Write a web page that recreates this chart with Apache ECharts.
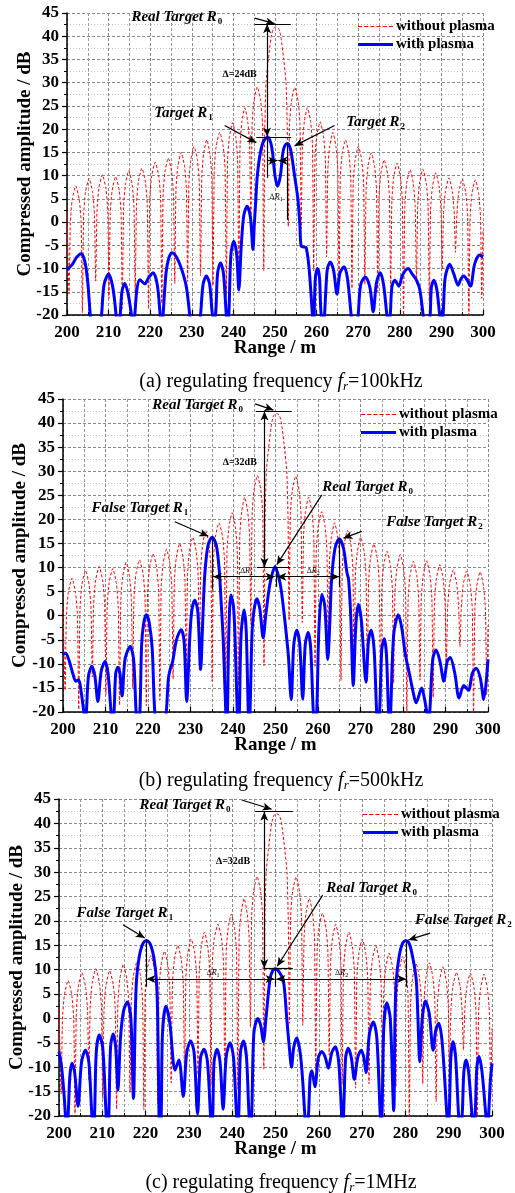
<!DOCTYPE html>
<html><head><meta charset="utf-8">
<script src="https://cdn.jsdelivr.net/npm/echarts@6/dist/echarts.min.js"></script>
<style>html,body{margin:0;padding:0;background:#fff}#c{width:515px;height:1193px}</style>
</head><body><div id="c"></div>
<script>
// ---------- data (range in m, amplitude in dB) ----------
const redCurve = [
[200,2],[200.5,-15.5],
[200.8,-0.2],[201.25,4.8],[202.1,7.8],[202.95,4.8],[203.4,-0.2],[203.7,-19.5],
[204.0,1.4],[204.45,6.4],[205.3,9.4],[206.15,6.4],[206.6,1.4],[206.9,-12.7],
[207.2,2.2],[207.65,7.2],[208.5,10.2],[209.35,7.2],[209.8,2.2],[210.1,-16.4],
[210.4,1.8],[210.85,6.8],[211.7,9.8],[212.55,6.8],[213.0,1.8],[213.3,-18.6],
[213.6,3.1],[214.05,8.1],[214.85,11.1],[215.65,8.1],[216.1,3.1],[216.4,-15.2],
[216.7,3.6],[217.15,8.6],[218.0,11.6],[218.85,8.6],[219.3,3.6],[219.6,-18.7],
[219.9,4.9],[220.35,9.9],[221.2,12.9],[222.05,9.9],[222.5,4.9],[222.8,-17.5],
[223.1,5.8],[223.55,10.8],[224.35,13.8],[225.15,10.8],[225.6,5.8],[225.9,-13.2],
[226.2,7.0],[226.65,12.0],[227.45,15.0],[228.25,12.0],[228.7,7.0],[229.0,-12.8],
[229.3,8.3],[229.75,13.3],[230.55,16.3],[231.35,13.3],[231.8,8.3],[232.1,-11.5],
[232.4,9.7],[232.85,14.7],[233.6,17.7],[234.35,14.7],[234.8,9.7],[235.1,-13.6],
[235.4,11.3],[235.85,16.3],[236.7,19.3],[237.55,16.3],[238.0,11.3],[238.3,-16.0],
[238.6,13.4],[239.05,18.4],[239.8,21.4],[240.55,18.4],[241.0,13.4],[241.3,-14.5],
[241.6,16.6],[242.05,21.6],[242.75,24.6],[243.45,21.6],[243.9,16.6],[244.2,-1.8],
[244.5,21.1],[244.95,26.1],[245.75,29.1],[246.55,26.1],[247.0,21.1],[247.3,-10.4],
[247.55,20],[247.85,30],[248.4,35],[249.1,40],[249.6,41.6],[250.25,42],[250.9,41.6],[251.4,40],[252.1,35],[252.65,30],[252.95,20],[253.2,-1.0],
[253.5,21],[253.95,26],[254.75,29],[255.55,26],[256.0,21],[256.3,-1.4],
[256.6,16.6],[257.05,21.6],[257.8,24.6],[258.55,21.6],[259.0,16.6],[259.3,-10.5],
[259.6,13.6],[260.05,18.6],[260.85,21.6],[261.65,18.6],[262.1,13.6],[262.4,-7.5],
[262.7,11.3],[263.15,16.3],[263.9,19.3],[264.65,16.3],[265.1,11.3],[265.4,-13.5],
[265.7,9.7],[266.15,14.7],[266.95,17.7],[267.75,14.7],[268.2,9.7],[268.5,-14.3],
[268.8,8.3],[269.25,13.3],[270.05,16.3],[270.85,13.3],[271.3,8.3],[271.6,-13.4],
[271.9,6.9],[272.35,11.9],[273.15,14.9],[273.95,11.9],[274.4,6.9],[274.7,-15.0],
[275.0,5.4],[275.45,10.4],[276.25,13.4],[277.05,10.4],[277.5,5.4],[277.8,-14.0],
[278.1,4.7],[278.55,9.7],[279.35,12.7],[280.15,9.7],[280.6,4.7],[280.9,-20.5],
[281.2,3.3],[281.65,8.3],[282.45,11.3],[283.25,8.3],[283.7,3.3],[284.0,-13.4],
[284.3,3.4],[284.75,8.4],[285.55,11.4],[286.35,8.4],[286.8,3.4],[287.1,-17.0],
[287.4,2.6],[287.85,7.6],[288.65,10.6],[289.45,7.6],[289.9,2.6],[290.2,-10.2],
[290.5,1.5],[290.95,6.5],[291.8,9.5],[292.65,6.5],[293.1,1.5],[293.4,-6.5],
[293.7,1.3],[294.15,6.3],[295.0,9.3],[295.85,6.3],[296.3,1.3],[296.6,-20.5],
[296.9,1.1],[297.35,6.1],[298.15,9.1],[298.95,6.1],[299.4,1.1],[299.7,-16.4],
[300,-2]
];

const blueA = [
[200,-10.2],[201.2,-9.2],[202.3,-7.6],[203.4,-6.8],[204.3,-8.5],[205.0,-13],[205.6,-20],[206.9,-30],[208.3,-20],[208.9,-13.5],[210.0,-11.2],[211.0,-14],[211.8,-20],[212.3,-26],[212.8,-20],[213.2,-15],[213.9,-13.2],[214.7,-15.5],[215.5,-20],[215.9,-23],[216.3,-20],[216.8,-14.5],[217.5,-12.4],[218.7,-13.3],[219.6,-12],[220.7,-10.9],[221.7,-13.5],[222.4,-20],[222.8,-24],[223.1,-20],[223.8,-11],[224.4,-8],[225.2,-6.6],[226.3,-7.5],[227.5,-10],[228.7,-14],[229.5,-20],[230.8,-30],[232.1,-20],[232.7,-13.5],[233.5,-11.6],[234.3,-13.5],[234.9,-19.5],[235.2,-20.5],[235.7,-20],[236.2,-11],[236.9,-8.8],[237.6,-11],[238.3,-20],[238.6,-22],[238.9,-20],[239.4,-7],[240.1,-4.1],[240.8,-7],[241.3,-14.6],[241.9,-5],[242.5,1.5],[243.3,3.4],[244.1,1],[244.7,-5.9],[245.0,-1],[245.4,5],[245.75,10],[246.5,15],[247.3,17.5],[248.3,18.3],[249.0,17],[249.4,15],[250.0,10],[250.6,7.7],[251.3,10],[251.9,15],[252.4,16.5],[253.0,16.9],[253.5,16.3],[253.9,15],[254.7,10],[255.5,5],[256.0,-1],[256.3,-5.2],[257.1,-5.4],[257.5,-5.5],[258.2,-10],[259.0,-20],[259.2,-22],[259.4,-20],[259.7,-12],[260.2,-10],[260.7,-12],[261.1,-20],[261.7,-21],[262.2,-15],[262.6,-10],[263.3,-8.6],[264.1,-10.5],[264.9,-15.5],[265.6,-11],[266.6,-9.6],[267.4,-12],[268.3,-20],[269.2,-28],[270.0,-20],[270.6,-13.5],[271.7,-11.8],[272.8,-14],[273.6,-19.3],[274.4,-13],[275.3,-10.9],[276.1,-13.5],[276.9,-20],[277.3,-22],[277.7,-20],[278.1,-14],[278.8,-12.5],[279.8,-13.8],[280.6,-11.5],[282.0,-10],[283.0,-11.2],[284.0,-12.5],[284.8,-14.5],[285.6,-20],[286.5,-28],[287.3,-20],[287.6,-14],[288.2,-12.5],[288.9,-14.5],[289.6,-20],[290.0,-22],[290.4,-20],[290.9,-12],[292.0,-9.1],[293.0,-11.2],[294.0,-13.6],[294.7,-12.2],[295.4,-11.6],[296.2,-12.5],[297.0,-13.8],[298.0,-9],[299.2,-7.1],[300,-7.5]
];

const blueB = [
[200,-8.1],[200.6,-7.8],[201.5,-9.5],[202.3,-12],[203.0,-13.6],[203.7,-13.3],[204.3,-16],[204.9,-20],[205.2,-22],[205.5,-20],[206.0,-12.5],[206.8,-10.5],[207.5,-12.5],[208.2,-17.8],[209.0,-11.5],[209.9,-9.5],[210.6,-12],[211.3,-20],[211.6,-22],[212.0,-20],[212.4,-12],[212.9,-10.7],[213.4,-12],[213.9,-16.7],[214.6,-9],[215.8,-6.4],[216.6,-9],[217.2,-20],[217.6,-24],[218.1,-20],[218.5,-6],[219.0,-1.5],[219.6,0.2],[220.3,-1.5],[221.0,-7],[221.6,-20],[223.0,-30],[224.3,-20],[224.8,-13],[225.2,-11.2],[225.8,-9.5],[226.7,-5],[227.8,-2.9],[228.5,-5.5],[229.1,-17.8],[229.8,-5],[230.3,1],[231.0,3.2],[231.7,1],[232.4,-11.2],[232.8,-3],[233.1,4],[233.4,9],[234.1,14.5],[235.1,16.3],[236.1,14.5],[236.8,9],[237.2,3],[237.7,-5],[238.3,-20],[238.5,-22],[238.7,-20],[239.0,-4],[239.5,4.3],[240.1,2],[240.5,-5],[241.0,-20],[241.25,-23],[241.5,-20],[241.9,-4],[242.6,1.2],[243.1,-3],[243.6,-20],[243.8,-21],[244.0,-20],[244.5,-3],[245.0,1.5],[245.6,3.5],[246.3,1.5],[247.1,-4.6],[247.7,0],[248.4,5],[248.9,7.5],[249.9,10.2],[250.9,7.5],[251.4,5],[252.2,-1],[253.0,-8],[253.7,-17.4],[254.3,-6],[255.0,-3],[255.7,-6],[256.4,-17.3],[257.0,-6],[257.7,-3.5],[258.3,-7],[258.9,-20],[259.3,-22],[259.7,-20],[260.2,-3],[260.9,4.4],[261.6,2],[262.3,-9.1],[262.8,-1],[263.2,7.5],[264.0,14],[265.0,16.0],[266.0,14],[266.8,9],[267.2,7.5],[267.7,0],[268.3,-14.5],[268.9,-2],[269.5,2.3],[270.2,-1],[271.3,-13.8],[271.9,-5],[272.5,-3],[273.2,-7],[273.8,-20],[274.1,-22],[274.5,-20],[275.0,-7],[275.6,-4.8],[276.1,-8],[276.6,-20],[276.9,-22],[277.1,-20],[277.8,-4],[278.9,0.2],[279.7,-2.5],[280.5,-7.8],[281.5,-12],[282.3,-15.5],[283.1,-18.1],[284.4,-15],[285.0,-17],[285.6,-20],[286.0,-22],[286.3,-20],[287.0,-9],[287.8,-7.1],[288.7,-9.5],[289.6,-13.6],[290.4,-9.5],[291.1,-8.7],[292.2,-12],[293.2,-17.1],[294.3,-14.5],[295.4,-15.5],[296.3,-12],[297.2,-10.9],[298.2,-13],[299.0,-17.4],[300,-9.1]
];

const blueC = [
[200,-6.8],[200.6,-10],[201.2,-16],[201.5,-20],[201.8,-22],[202.1,-20],[202.5,-12],[203.0,-9.2],[203.6,-11],[204.4,-18],[205.2,-9],[206.1,-6.5],[206.9,-9],[207.6,-20],[207.9,-22],[208.2,-20],[208.6,-7],[209.3,-3.4],[210.1,-6],[210.9,-20],[211.2,-22],[211.5,-20],[211.9,-6],[212.5,-3.2],[213.1,-6],[213.6,-14.7],[214.2,-4],[214.9,1.5],[215.8,3.4],[216.6,0],[217.2,-16.4],[217.6,0],[217.9,7.9],[218.5,12.5],[219.3,15.2],[220.2,16],[221.1,15.2],[221.9,12.5],[222.5,7.9],[222.8,0],[223.1,-20],[223.3,-22],[223.6,-20],[223.9,-3],[224.7,2.5],[225.6,-1],[226.8,-10.6],[227.7,-8.5],[228.7,-16],[229.5,-7],[230.4,-4.6],[231.2,-7],[232.0,-19.6],[232.7,-8],[233.5,-6.3],[234.3,-9],[235.0,-20],[235.2,-21],[235.5,-20],[235.8,-9],[236.5,-6.3],[237.2,-9],[237.9,-18.6],[238.6,-8],[239.5,-5],[240.3,-8],[241.0,-20],[241.2,-21],[241.5,-20],[241.9,-7],[242.6,-4.6],[243.3,-8],[243.9,-20],[244.2,-21],[244.5,-20],[245.0,-3],[245.9,0],[246.6,-1.5],[247.2,-4.8],[247.8,0],[248.7,7.9],[249.3,9.7],[250.0,10.2],[250.7,9.7],[251.8,7.9],[252.6,0],[253.2,-6],[253.7,-10],[254.2,-6],[254.9,-4],[255.7,-7],[256.3,-13],[256.8,-20],[257.2,-22],[257.6,-20],[258.0,-12],[258.4,-10.7],[259.1,-14],[259.9,-8],[260.7,-6.8],[261.5,-8],[262.2,-10.2],[263.0,-7],[263.8,-5.8],[264.6,-9],[265.3,-20],[265.5,-21],[265.7,-20],[266.2,-8],[266.8,-6.1],[267.5,-8],[268.2,-12.5],[269.0,-8],[269.8,-6.5],[270.4,-8],[270.9,-11.1],[271.7,-3],[272.6,-0.7],[273.4,-4],[274.2,-20],[274.4,-21],[274.6,-20],[275.0,-2],[275.7,3.2],[276.5,0],[277.3,-18.9],[277.6,0],[277.9,7.9],[278.6,13],[279.3,15.3],[280.1,16],[280.9,15.3],[281.7,12.5],[282.5,7.9],[282.9,0],[283.3,-8.9],[283.9,0],[284.6,3.6],[285.5,1],[286.4,-6.5],[287.0,-2.5],[287.7,-1],[288.5,-5],[289.6,-20],[289.8,-21],[290.1,-20],[290.5,-8],[291.0,-4.8],[291.6,-8],[292.3,-20],[292.7,-22],[293.1,-20],[293.5,-11],[294.0,-8.5],[294.6,-11],[295.4,-20],[295.7,-22],[296.1,-20],[296.5,-10],[297.0,-7.8],[297.7,-11],[298.6,-20],[298.9,-22],[299.2,-20],[299.6,-13],[300,-9.2]
];

const seriesNames = ['without plasma', 'with plasma'];
const captionLetters = ['(a)', '(b)', '(c)'];
const captionFreqs = ['100kHz', '500kHz', '1MHz'];
const deltaLabels = ['24dB', '32dB', '32dB'];

// ---------- layout & styles ----------
const SERIF = 'Liberation Serif';
const grids = [
  {left: 67, top: 13, width: 416, height: 302},
  {left: 63, top: 399, width: 425, height: 313},
  {left: 59, top: 799, width: 433, height: 317}
];
const captionTops = [366, 765, 1167];
const yNameGaps = [32, 33, 32];
const legendPos = [{left: 353, top: 14}, {left: 356, top: 402}, {left: 358, top: 802}];
const blues = [blueA, blueB, blueC];

const richText = {
  t: {fontFamily: SERIF, fontWeight: 'bold', fontStyle: 'italic', fontSize: 15, color: '#000'},
  s: {fontFamily: SERIF, fontWeight: 'bold', fontSize: 9, color: '#000', padding: [9, 0, 0, 1]},
  d: {fontFamily: SERIF, fontWeight: 'bold', fontSize: 10, color: '#000'},
  r: {fontFamily: SERIF, fontStyle: 'italic', fontSize: 8, color: '#000'},
  rs: {fontFamily: SERIF, fontSize: 6, color: '#000', padding: [5, 0, 0, 0]}
};
const big = (txt, sub) => `{t|${txt}}{s|${sub}}`;
const small = (sub) => `{r|∆R}{rs|${sub}}`;

// annotation geometry per panel (data coordinates)
const annot = [
  {
    lines: [
      [[245.1, 42.6], [253.8, 42.6], 'none', 'none'],
      [[245.1, 43.9], [249.9, 42.7], 'none', 'arrow'],
      [[248.1, 42.6], [248.1, 18.4], 'arrow', 'arrow'],
      [[248.1, 18.4], [248.1, 9.5], 'none', 'none'],
      [[245.5, 18.3], [253.9, 18.3], 'none', 'none'],
      [[253.0, 17.0], [253.0, 0.5], 'none', 'none'],
      [[248.2, 13.2], [250.6, 13.2], 'none', 'arrow'],
      [[253.0, 13.2], [250.8, 13.2], 'none', 'arrow'],
      [[237.9, 20.8], [245.5, 17.1], 'none', 'arrow'],
      [[264.3, 20.8], [254.7, 16.4], 'none', 'arrow']
    ],
    texts: [
      [[226.4, 44.2], big('Real Target R', '0')],
      [[241.5, 31.8], `{d|∆=${deltaLabels[0]}}`],
      [[228.0, 23.5], big('Target R', '1')],
      [[274.2, 21.6], big('Target R', '2')],
      [[250.3, 5.5], small('1')]
    ]
  },
  {
    lines: [
      [[245.4, 42.4], [253.8, 42.4], 'none', 'none'],
      [[245.2, 44.0], [249.5, 42.7], 'none', 'arrow'],
      [[247.4, 42.4], [247.4, 10.1], 'arrow', 'arrow'],
      [[245.6, 10.1], [253.4, 10.1], 'none', 'none'],
      [[260.9, 25.1], [250.3, 10.6], 'none', 'arrow'],
      [[226.3, 19.5], [234.2, 16.5], 'none', 'arrow'],
      [[270.3, 17.5], [266.0, 16.1], 'none', 'arrow'],
      [[235.2, 16.3], [235.2, 5.5], 'none', 'none'],
      [[250.1, 10.1], [250.1, 6.0], 'none', 'none'],
      [[265.0, 16.0], [265.0, 6.0], 'none', 'none'],
      [[235.3, 8.1], [249.8, 8.1], 'arrow', 'arrow'],
      [[250.4, 8.1], [265.0, 8.1], 'arrow', 'arrow']
    ],
    texts: [
      [[231.7, 43.8], big('Real Target R', '0')],
      [[241.6, 31.8], `{d|∆=${deltaLabels[1]}}`],
      [[271.7, 26.7], big('Real Target R', '0')],
      [[218.1, 22.3], big('False Target R', '1')],
      [[287.4, 19.5], big('False Target R', '2')],
      [[243.2, 9.4], small('1')],
      [[258.9, 9.4], small('2')]
    ]
  },
  {
    lines: [
      [[245.3, 42.4], [254.0, 42.4], 'none', 'none'],
      [[242.2, 44.8], [249.1, 42.9], 'none', 'arrow'],
      [[247.4, 42.4], [247.4, 10.3], 'arrow', 'arrow'],
      [[247.2, 10.3], [254.0, 10.3], 'none', 'none'],
      [[260.9, 25.3], [250.4, 10.7], 'none', 'arrow'],
      [[214.8, 19.2], [219.8, 16.5], 'none', 'arrow'],
      [[285.7, 17.5], [280.7, 16.1], 'none', 'arrow'],
      [[220.2, 16.0], [220.2, 6.5], 'none', 'none'],
      [[250.0, 10.2], [250.0, 6.5], 'none', 'none'],
      [[280.2, 16.0], [280.2, 6.5], 'none', 'none'],
      [[220.2, 8.1], [249.8, 8.1], 'arrow', 'arrow'],
      [[250.2, 8.1], [280.2, 8.1], 'arrow', 'arrow']
    ],
    texts: [
      [[229.1, 43.8], big('Real Target R', '0')],
      [[240.2, 32.3], `{d|∆=${deltaLabels[2]}}`],
      [[272.2, 26.7], big('Real Target R', '0')],
      [[215.2, 21.6], big('False Target R', '1')],
      [[293.4, 20.2], big('False Target R', '2')],
      [[235.6, 9.4], small('1')],
      [[265.3, 9.4], small('2')]
    ]
  }
];

const xAxes = [], yAxes = [], series = [], titles = [], legends = [];
for (let i = 0; i < 3; i++) {
  xAxes.push({
    type: 'value', gridIndex: i, min: 200, max: 300, interval: 10,
    axisLine: {show: true, onZero: false, lineStyle: {color: '#000', width: 1.5}},
    axisTick: {show: true, inside: true, length: 5, lineStyle: {color: '#000', width: 1.2}},
    minorTick: {show: true, splitNumber: 2, length: 3, lineStyle: {color: '#000'}},
    axisLabel: {fontFamily: SERIF, fontWeight: 'bold', fontSize: 17, color: '#000', margin: 9},
    splitLine: {show: true, lineStyle: {color: '#8a8a8a', width: 1, type: [3, 2]}},
    minorSplitLine: {show: true, lineStyle: {color: '#9a9a9a', width: 1, type: [3, 2]}},
    name: 'Range / m', nameLocation: 'middle', nameGap: 24, nameMoveOverlap: false,
    nameTextStyle: {fontFamily: SERIF, fontWeight: 'bold', fontSize: 19, color: '#000'}
  });
  yAxes.push({
    type: 'value', gridIndex: i, min: -20, max: 45, interval: 5,
    axisLine: {show: true, onZero: false, lineStyle: {color: '#000', width: 1.5}},
    axisTick: {show: true, inside: false, length: 5, lineStyle: {color: '#000', width: 1.2}},
    minorTick: {show: true, splitNumber: 2, length: 3, lineStyle: {color: '#000'}},
    axisLabel: {fontFamily: SERIF, fontWeight: 'bold', fontSize: 17, color: '#000', margin: 8},
    splitLine: {show: true, lineStyle: {color: '#8a8a8a', width: 1, type: [3, 2]}},
    minorSplitLine: {show: true, lineStyle: {color: '#c4c4c4', width: 1, type: [1, 2]}},
    name: 'Compressed amplitude / dB', nameLocation: 'middle', nameGap: yNameGaps[i], nameMoveOverlap: false,
    nameTextStyle: {fontFamily: SERIF, fontWeight: 'bold', fontSize: 19, color: '#000'}
  });
  series.push({
    name: seriesNames[0], type: 'line', xAxisIndex: i, yAxisIndex: i,
    data: redCurve, symbol: 'none', smooth: 0.2, clip: true, z: 2,
    lineStyle: {color: '#ff0000', width: 1, type: [3, 2]}, itemStyle: {color: '#ff0000'}
  });
  series.push({
    name: seriesNames[1], type: 'line', xAxisIndex: i, yAxisIndex: i,
    data: blues[i], symbol: 'none', smooth: 0.3, clip: true, z: 3,
    lineStyle: {color: '#0000ff', width: 3}, itemStyle: {color: '#0000ff'}
  });
  series.push({
    name: 'annotations' + i, type: 'line', xAxisIndex: i, yAxisIndex: i,
    data: [], symbol: 'none', z: 5, silent: true, clip: false,
    markLine: {
      silent: true, animation: false, symbolSize: [6, 9],
      lineStyle: {color: '#000', width: 1.2, type: 'solid'},
      label: {show: false}, emphasis: {disabled: true},
      data: annot[i].lines.map(l => [
        {coord: l[0], symbol: l[2]},
        {coord: l[1], symbol: l[3]}
      ])
    },
    markPoint: {
      silent: true, animation: false, symbol: 'circle', symbolSize: 0,
      itemStyle: {color: 'rgba(0,0,0,0)'},
      label: {show: true, position: 'inside', rich: richText},
      data: annot[i].texts.map(t => ({coord: t[0], value: 0, label: {formatter: t[1], rich: richText}}))
    }
  });
  titles.push({
    text: `${captionLetters[i]} regulating frequency {i|f}{s|r}=${captionFreqs[i]}`,
    left: 276, top: captionTops[i], textAlign: 'center',
    textStyle: {
      fontFamily: SERIF, fontWeight: 'normal', fontSize: 20, color: '#000',
      rich: {
        i: {fontFamily: SERIF, fontStyle: 'italic', fontSize: 20, color: '#000'},
        s: {fontFamily: SERIF, fontStyle: 'italic', fontSize: 13, color: '#000', padding: [9, 0, 0, 0]}
      }
    }
  });
  legends.push({
    left: legendPos[i].left, top: legendPos[i].top, orient: 'vertical',
    itemWidth: 35, itemHeight: 12, itemGap: 3, selectedMode: false,
    icon: 'path://M0,5L35,5L35,7L0,7Z',
    data: [
      {name: seriesNames[0], icon: 'path://M0,5.5h4v1h-4zM6,5.5h4v1h-4zM12,5.5h4v1h-4zM18,5.5h4v1h-4zM24,5.5h4v1h-4zM30,5.5h4v1h-4z', itemStyle: {color: '#ff0000', borderWidth: 0}},
      {name: seriesNames[1], icon: 'path://M0,4.5L35,4.5L35,7.5L0,7.5Z', itemStyle: {color: '#0000ff', borderWidth: 0}}
    ],
    itemStyle: {borderWidth: 0},
    lineStyle: {width: 0, opacity: 0},
    textStyle: {fontFamily: SERIF, fontWeight: 'bold', fontSize: 15, color: '#000', padding: [0, 0, 0, -2]}
  });
}

const chart = echarts.init(document.getElementById('c'), null, {renderer: 'canvas'});
chart.setOption({
  animation: false,
  backgroundColor: '#fff',
  title: titles,
  legend: legends,
  grid: grids,
  xAxis: xAxes,
  yAxis: yAxes,
  series: series
});
</script>
</body></html>
